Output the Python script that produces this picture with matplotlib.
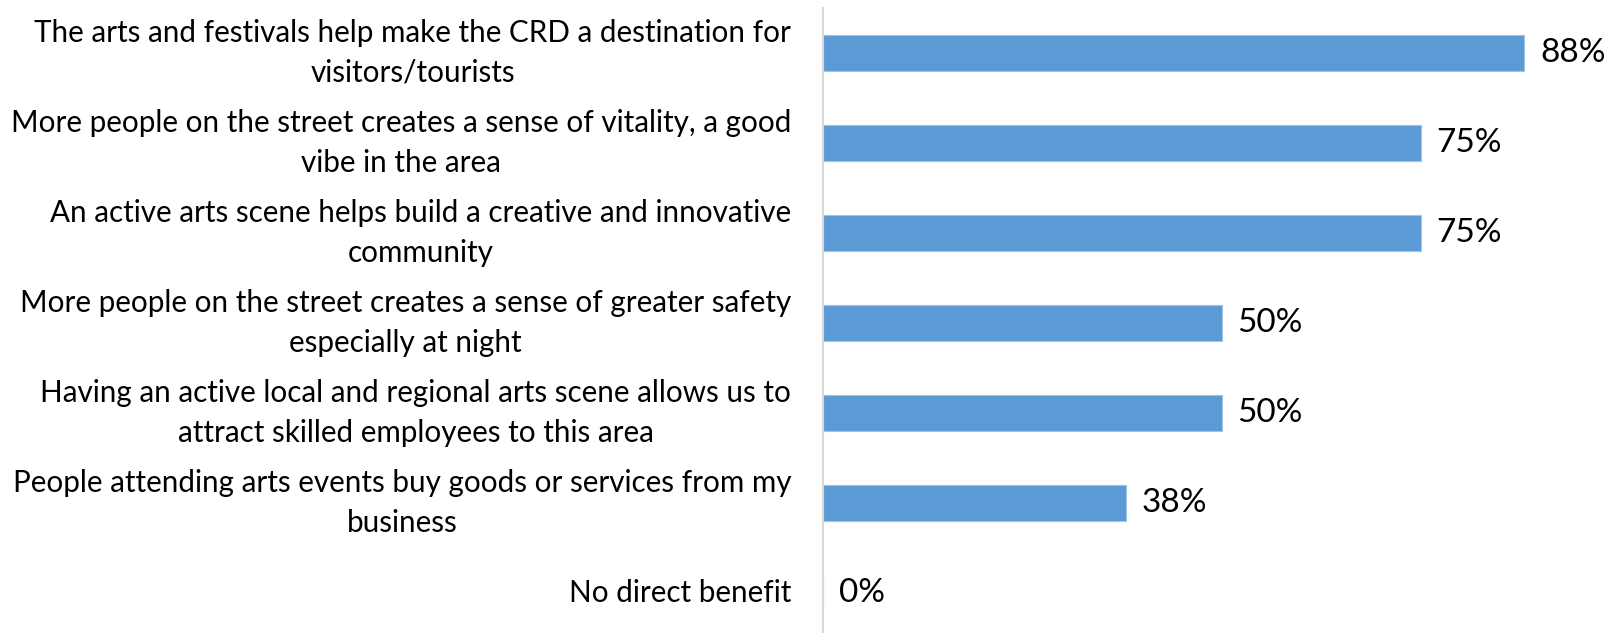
import matplotlib.pyplot as plt

plt.rcParams['font.family'] = ['Lato', 'DejaVu Sans']

labels = [
    "The arts and festivals help make the CRD a destination for\nvisitors/tourists",
    "More people on the street creates a sense of vitality, a good\nvibe in the area",
    "An active arts scene helps build a creative and innovative\ncommunity",
    "More people on the street creates a sense of greater safety\nespecially at night",
    "Having an active local and regional arts scene allows us to\nattract skilled employees to this area",
    "People attending arts events buy goods or services from my\nbusiness",
    "No direct benefit",
]
values = [88, 75, 75, 50, 50, 38, 0]

W, H = 1612, 633
fig = plt.figure(figsize=(W / 100, H / 100), dpi=100)
# plot area: axis line at x=823, rows 90 px apart starting at y=8
ax = fig.add_axes([823 / W, 1 - 638 / H, 797 / W, 630 / H])

pos = list(range(len(values)))
ax.barh(pos, values, height=0.4, color='#5B9BD5', edgecolor='#9DC3E6', linewidth=0.8)
ax.set_xlim(0, 100)
ax.set_ylim(len(values) - 0.5, -0.5)

for y, v in zip(pos, values):
    ax.text(v + 2, y, f"{v}%", va='center', ha='left', fontsize=24, color='black')

ax.set_yticks(pos)
ax.set_yticklabels(labels, fontsize=21.3, multialignment='center', linespacing=1.5)
for t in ax.get_yticklabels():
    t.set_va('center')
ax.tick_params(axis='y', length=0, pad=23)
ax.set_xticks([])

for side in ['top', 'right', 'bottom']:
    ax.spines[side].set_visible(False)
ax.spines['left'].set_color('#D9D9D9')
ax.spines['left'].set_linewidth(1.5)

fig.savefig('out.png', dpi=100)
